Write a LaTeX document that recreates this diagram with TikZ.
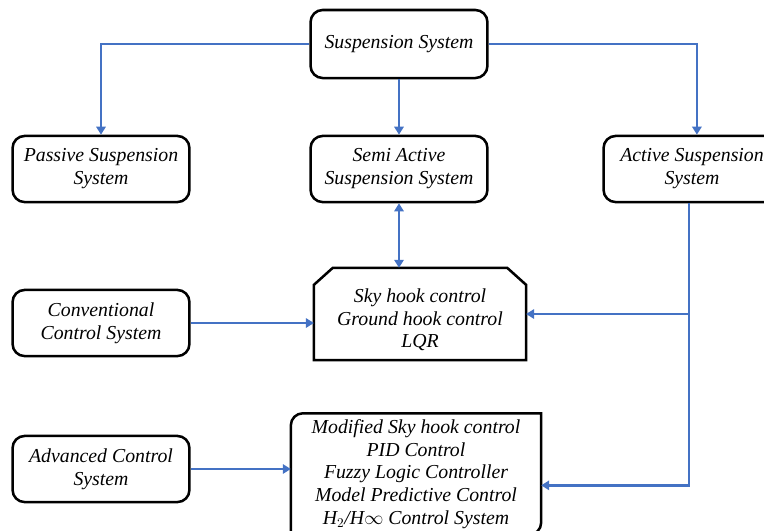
\documentclass[tikz,border=0pt]{standalone}
\usepackage{fontspec}
\setmainfont{Liberation Serif}
\usepackage{tikz}
\usetikzlibrary{arrows.meta}
\definecolor{linkblue}{RGB}{68,114,196}
\tikzstyle{sysbox} = [rectangle, rounded corners=0.32cm, minimum width=4.68cm, minimum height=1.75cm, text centered, align=center, draw=black, line width=1.9pt, font=\fontsize{14.9}{17.4}\selectfont\itshape]
\tikzstyle{lawbox} = [rectangle, minimum width=5.6cm, minimum height=2.43cm, inner sep=0pt, align=center, font=\fontsize{14.9}{17}\selectfont\itshape]
\tikzstyle{listbox} = [rectangle, minimum width=6.61cm, minimum height=3.2cm, inner sep=0pt, align=center, font=\fontsize{14.9}{17.1}\selectfont\itshape]
\tikzstyle{outline} = [line width=1.9pt, draw=black]
\tikzstyle{arrow} = [linkblue, line width=1.9pt, -{Triangle[length=6pt,width=7pt]}]

\begin{document}
\begin{tikzpicture}[x=0.0264583cm, y=-0.0264583cm]
\clip (0,0) rectangle (764,530);

\node (sus) [sysbox, minimum height=1.8cm] at (399,44) {Suspension System};
\node (pas) [sysbox] at (101,169) {Passive Suspension\\System};
\node (semi) [sysbox] at (399,169) {Semi Active\\Suspension System};
\node (act) [sysbox] at (692,169) {Active Suspension\\System};
\node (conv) [sysbox] at (101,323) {Conventional\\Control System};
\node (lqr) [lawbox] at (420,314) {\rule{0pt}{19pt}Sky hook control\\Ground hook control\\LQR};
\node (adv) [sysbox] at (101,469) {Advanced Control\\System};
\node (ctl) [listbox] at (416,474) {Modified Sky hook control\\PID Control\\Fuzzy Logic Controller\\Model Predictive Control\\H$_2$/H$\infty$ Control System};

% box with cut top corners
\draw [outline] (lqr.south west) -- ([yshift=-0.45cm]lqr.north west) -- ([xshift=0.5cm]lqr.north west) -- ([xshift=-0.5cm]lqr.north east) -- ([yshift=-0.45cm]lqr.north east) -- (lqr.south east) -- cycle;
% box with two rounded corners
\draw [outline] (ctl.west) [rounded corners=0.32cm] |- (ctl.north) [sharp corners] -| (ctl.east) [rounded corners=0.32cm] |- (ctl.south) [sharp corners] -| cycle;

\coordinate (junc) at ([xshift=-0.08cm]act.south |- lqr.east);

\draw [arrow] (sus.west) -| (pas.north);
\draw [arrow] (sus.east) -| ([xshift=0.13cm]act.north);
\draw [arrow] (sus) -- (semi);
\draw [arrow, {Triangle[length=6pt,width=7pt]}-{Triangle[length=6pt,width=7pt]}] (semi.south) -- (semi.south |- lqr.north);
\draw [arrow] (conv.east) -- (lqr.west |- conv.east);
\draw [arrow] (junc |- act.south) -- (junc) -- (lqr.east);
\draw [arrow] (junc) |- ([yshift=-0.3cm]ctl.east);
\draw [arrow] (adv.east) -- (ctl.west |- adv.east);

\end{tikzpicture}
\end{document}
